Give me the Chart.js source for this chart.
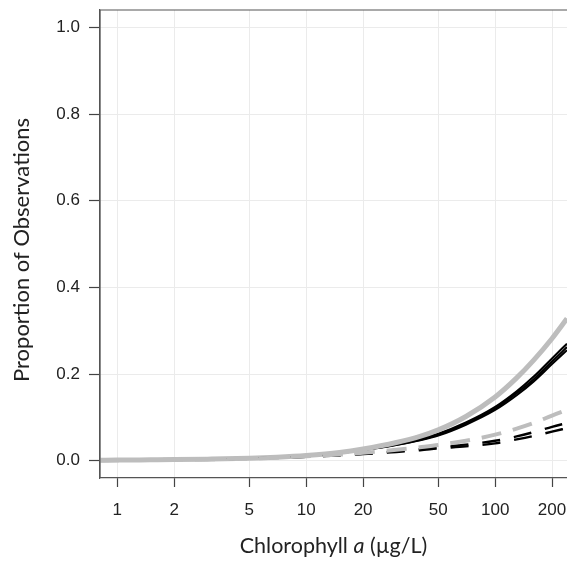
<!DOCTYPE html>
<html>
<head>
<meta charset="utf-8">
<script src="https://cdn.jsdelivr.net/npm/chart.js@4"></script>
<style>
  html, body { margin: 0; padding: 0; background: #fff; }
  #wrap { width: 567px; height: 562px; }
</style>
</head>
<body>
<div id="wrap"><canvas id="chart" width="567" height="562"></canvas></div>
<script>
// tick labels
const xTicks = [1, 2, 5, 10, 20, 50, 100, 200];
const yTicks = [0, 0.2, 0.4, 0.6, 0.8, 1.0];

// chlorophyll a values (µg/L) where curves were read
const chl = [0.8, 1, 1.5, 2, 3, 5, 7, 10, 15, 20, 30, 40, 50, 70, 100, 130, 160, 200, 240];

// solid curves
const graySolid   = [0.001, 0.0013, 0.002, 0.0025, 0.0035, 0.0055, 0.008, 0.012, 0.019, 0.027, 0.042, 0.056, 0.071, 0.102, 0.147, 0.191, 0.232, 0.282, 0.328];
const blackSolidA = [0.001, 0.0013, 0.002, 0.0025, 0.0035, 0.0055, 0.008, 0.012, 0.018, 0.026, 0.038, 0.050, 0.062, 0.088, 0.124, 0.160, 0.194, 0.236, 0.270];
const blackSolidB = [0.001, 0.0013, 0.002, 0.0025, 0.0035, 0.0055, 0.008, 0.012, 0.018, 0.025, 0.037, 0.048, 0.060, 0.085, 0.120, 0.156, 0.188, 0.229, 0.262];
const blackSolidC = [0.001, 0.0013, 0.002, 0.0025, 0.0035, 0.0055, 0.008, 0.011, 0.017, 0.024, 0.036, 0.047, 0.058, 0.083, 0.117, 0.151, 0.183, 0.223, 0.255];

// dashed curves
const grayDashed   = [0.001, 0.0012, 0.0018, 0.0023, 0.003, 0.005, 0.007, 0.010, 0.014, 0.018, 0.025, 0.031, 0.036, 0.046, 0.060, 0.074, 0.087, 0.104, 0.117];
const blackDashedA = [0.001, 0.0012, 0.0018, 0.0023, 0.003, 0.005, 0.007, 0.009, 0.013, 0.016, 0.022, 0.027, 0.031, 0.037, 0.046, 0.056, 0.066, 0.078, 0.087];
const blackDashedB = [0.001, 0.0012, 0.0018, 0.0023, 0.003, 0.005, 0.007, 0.009, 0.012, 0.015, 0.020, 0.024, 0.028, 0.033, 0.040, 0.049, 0.057, 0.067, 0.075];

const pts = arr => chl.map((x, i) => ({ x: x, y: arr[i] }));

const line = (data, color, width, dash) => ({
    data: pts(data),
    borderColor: color,
    borderWidth: width,
    borderDash: dash || [],
    pointRadius: 0,
    cubicInterpolationMode: 'monotone',
    fill: false
});

// box round the plot, axis titles (x title has an italic "a")
const framePlugin = {
    id: 'frame',
    afterDraw(chart) {
        const { ctx, chartArea: a } = chart;
        ctx.save();
        ctx.strokeStyle = '#555';
        ctx.lineWidth = 1.2;
        ctx.beginPath();
        ctx.moveTo(a.left, a.bottom);
        ctx.lineTo(a.left, a.top);
        ctx.lineTo(a.right + 2, a.top);
        ctx.stroke();

        ctx.fillStyle = '#222';
        ctx.textBaseline = 'middle';

        const parts = [
            { t: 'Chlorophyll ', f: '21.5px Lato' },
            { t: 'a', f: 'italic 21.5px Lato' },
            { t: ' (µg/L)', f: '21.5px Lato' }
        ];
        let w = 0;
        parts.forEach(p => { ctx.font = p.f; p.w = ctx.measureText(p.t).width; w += p.w; });
        let x = (a.left + a.right) / 2 - w / 2;
        const y = chart.scales.x.bottom - 16;
        parts.forEach(p => { ctx.font = p.f; ctx.fillText(p.t, x, y); x += p.w; });

        ctx.translate(22, (a.top + a.bottom) / 2 + 6);
        ctx.rotate(-Math.PI / 2);
        ctx.font = '22px Lato';
        ctx.textAlign = 'center';
        ctx.fillText('Proportion of Observations', 0, 0);
        ctx.restore();
    }
};

new Chart(document.getElementById('chart').getContext('2d'), {
    type: 'line',
    data: {
        datasets: [
            line(grayDashed, '#bdbdbd', 4, [20, 12]),
            line(blackDashedA, '#000', 2.4, [18, 14]),
            line(blackDashedB, '#000', 2.4, [18, 14]),
            line(graySolid, '#bdbdbd', 5),
            line(blackSolidA, '#000', 2.1),
            line(blackSolidB, '#000', 2.1),
            line(blackSolidC, '#000', 2.1)
        ]
    },
    options: {
        responsive: false,
        animation: false,
        layout: { padding: { top: 10, right: 0, left: 0, bottom: 0 } },
        plugins: { legend: { display: false }, tooltip: { enabled: false } },
        scales: {
            x: {
                type: 'logarithmic',
                min: 0.81,
                max: 240,
                afterBuildTicks: s => { s.ticks = xTicks.map(v => ({ value: v })); },
                afterFit: s => { s.height = 84; s.paddingLeft = 0; s.paddingRight = 0; },
                ticks: {
                    autoSkip: false,
                    maxRotation: 0,
                    padding: 13,
                    color: '#222',
                    font: { family: 'Liberation Sans', size: 17 },
                    callback: v => String(v)
                },
                grid: { color: '#ebebeb', lineWidth: 1, tickLength: 9, tickColor: '#444', tickWidth: 1.2 },
                border: { display: true, color: '#555', width: 1.2 }
            },
            y: {
                min: -0.04,
                max: 1.04,
                afterBuildTicks: s => { s.ticks = yTicks.map(v => ({ value: v })); },
                afterFit: s => { s.width = 100; s.paddingTop = 0; s.paddingBottom = 0; },
                ticks: {
                    padding: 9,
                    color: '#222',
                    font: { family: 'Liberation Sans', size: 17 },
                    callback: v => Number(v).toFixed(1)
                },
                grid: { color: '#ebebeb', lineWidth: 1, tickLength: 11, tickColor: '#444', tickWidth: 1.2 },
                border: { display: true, color: '#555', width: 1.2 }
            }
        }
    },
    plugins: [framePlugin]
});
</script>
</body>
</html>
